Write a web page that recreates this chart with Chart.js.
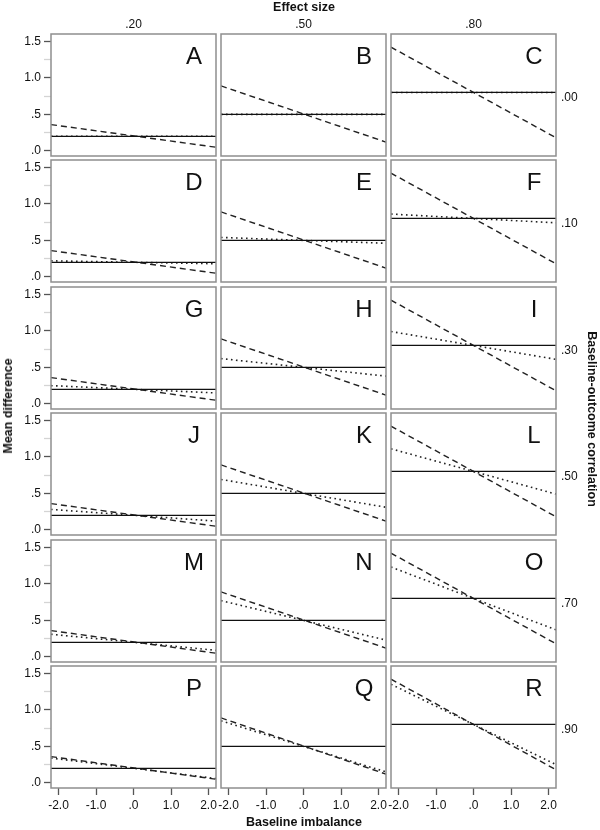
<!DOCTYPE html>
<html>
<head>
<meta charset="utf-8">
<script src="https://cdn.jsdelivr.net/npm/chart.js@4"></script>
<style>
  body { margin: 0; background: #fff; font-family: "Liberation Sans", Arial, sans-serif; }
  #wrap { position: relative; width: 600px; height: 830px; overflow: hidden; }
  canvas { position: absolute; }
  .lbl { position: absolute; font-size: 12px; color: #111; white-space: nowrap; }
  .ttl { position: absolute; font-size: 12.5px; font-weight: bold; color: #111; white-space: nowrap; }
</style>
</head>
<body>
<div id="wrap"></div>
<script>
// values
const effectSizes = [0.2, 0.5, 0.8];
const columnLabels = [".20", ".50", ".80"];
const rowLabels = [".00", ".10", ".30", ".50", ".70", ".90"];
const panelLetters = ["A","B","C","D","E","F","G","H","I","J","K","L","M","N","O","P","Q","R"];
const xEnds = [-2.2, 2.2];
const xTicks = [-2, -1, 0, 1, 2];
const yTicks = [0, 0.25, 0.5, 0.75, 1, 1.25, 1.5];
// dashed line, same in every row
const dashedStart = [0.36, 0.89, 1.42];
const dashedEnd = [0.05, 0.12, 0.18];
// dotted line, one row per correlation
const dottedStart = [
  [0.20, 0.50, 0.80],
  [0.22, 0.54, 0.86],
  [0.25, 0.62, 0.99],
  [0.28, 0.69, 1.11],
  [0.31, 0.77, 1.23],
  [0.34, 0.85, 1.35]
];
const dottedEnd = [
  [0.20, 0.50, 0.80],
  [0.18, 0.46, 0.74],
  [0.15, 0.38, 0.61],
  [0.12, 0.31, 0.49],
  [0.09, 0.23, 0.37],
  [0.06, 0.15, 0.25]
];

const colX = [51, 221, 391];
const rowY = [34, 160.4, 286.8, 413.2, 539.6, 666];
const PW = 165, PH = 122;
const PAD = 12;
const wrap = document.getElementById("wrap");

function fmt(v) {
  if (v === 0) return ".0";
  const s = v.toFixed(1);
  return Math.abs(v) < 1 ? s.replace("0.", ".") : s;
}

const framePlugin = {
  id: "frame",
  afterDraw(chart, args, opts) {
    const { ctx, chartArea: a } = chart;
    ctx.save();
    ctx.strokeStyle = "#8e8e8e";
    ctx.lineWidth = 1.5;
    ctx.strokeRect(a.left, a.top, a.right - a.left, a.bottom - a.top);
    ctx.fillStyle = "#111";
    ctx.font = "24px 'Liberation Sans', Arial, sans-serif";
    ctx.textAlign = "center";
    ctx.textBaseline = "alphabetic";
    ctx.fillText(opts.letter, a.right - 22, a.top + 30);
    ctx.restore();
  }
};

function addDiv(cls, text, x, y, extra) {
  const d = document.createElement("div");
  d.className = cls;
  d.textContent = text;
  d.style.left = x + "px";
  d.style.top = y + "px";
  if (extra) Object.assign(d.style, extra);
  wrap.appendChild(d);
  return d;
}

for (let r = 0; r < 6; r++) {
  for (let c = 0; c < 3; c++) {
    const first = c === 0, last = r === 5;
    const L = first ? 51 : PAD, R = PAD, T = PAD, B = last ? 42 : PAD;
    const w = PW + L + R, h = PH + T + B;
    const cv = document.createElement("canvas");
    cv.width = w;
    cv.height = h;
    cv.style.width = w + "px";
    cv.style.height = h + "px";
    cv.style.left = (colX[c] - L) + "px";
    cv.style.top = (rowY[r] - T) + "px";
    wrap.appendChild(cv);

    const d = effectSizes[c];
    new Chart(cv, {
      type: "line",
      data: {
        datasets: [
          { data: xEnds.map(x => ({ x, y: d })), borderColor: "#111", borderWidth: 1.3 },
          { data: [{ x: xEnds[0], y: dashedStart[c] }, { x: xEnds[1], y: dashedEnd[c] }],
            borderColor: "#222", borderWidth: 1.4, borderDash: [6, 4] },
          { data: [{ x: xEnds[0], y: dottedStart[r][c] }, { x: xEnds[1], y: dottedEnd[r][c] }],
            borderColor: "#222", borderWidth: 1.6, borderDash: [1.6, 3.4] }
        ]
      },
      options: {
        responsive: false,
        maintainAspectRatio: false,
        animation: false,
        devicePixelRatio: 1,
        layout: { padding: { left: first ? 0 : PAD, right: PAD, top: PAD, bottom: last ? 0 : PAD } },
        elements: { point: { radius: 0 } },
        plugins: { legend: { display: false }, tooltip: { enabled: false }, frame: { letter: panelLetters[r * 3 + c] } },
        scales: {
          x: {
            type: "linear", min: -2.2, max: 2.2, display: last,
            afterBuildTicks: s => { s.ticks = xTicks.map(v => ({ value: v })); },
            afterFit: s => { if (last) s.height = 42; },
            border: { display: false },
            grid: { drawOnChartArea: false, tickLength: 7, tickColor: "#555", tickWidth: 1.3 },
            ticks: { color: "#111", font: { size: 12, family: "'Liberation Sans', Arial" }, padding: 3, maxRotation: 0, callback: v => fmt(v) }
          },
          y: {
            min: -0.07, max: 1.6, display: first,
            afterBuildTicks: s => { s.ticks = yTicks.map(v => ({ value: v })); },
            afterFit: s => { if (first) s.width = 51; },
            border: { display: false },
            grid: { drawOnChartArea: false, tickLength: 7, tickWidth: 1.3,
              tickColor: ctx => (ctx.tick && ctx.tick.value % 0.5 === 0) ? "#555" : "#d4d4d4" },
            ticks: { color: "#111", font: { size: 12, family: "'Liberation Sans', Arial" }, padding: 3,
              callback: v => (v % 0.5 === 0 ? fmt(v) : "") }
          }
        }
      },
      plugins: [framePlugin]
    });

    if (c === 2) addDiv("lbl", rowLabels[r], 561, rowY[r] + PH / 2 - 5);
  }
}

columnLabels.forEach((t, c) => {
  addDiv("lbl", t, colX[c] + PW / 2, 17, { transform: "translateX(-50%)" });
});
addDiv("ttl", "Effect size", 304, 0, { transform: "translateX(-50%)" });
addDiv("ttl", "Baseline imbalance", 304, 815, { transform: "translateX(-50%)" });
addDiv("ttl", "Mean difference", 8, 406, { transform: "translate(-50%, -50%) rotate(-90deg)" });
addDiv("ttl", "Baseline-outcome correlation", 592, 419, { transform: "translate(-50%, -50%) rotate(90deg)" });
</script>
</body>
</html>
